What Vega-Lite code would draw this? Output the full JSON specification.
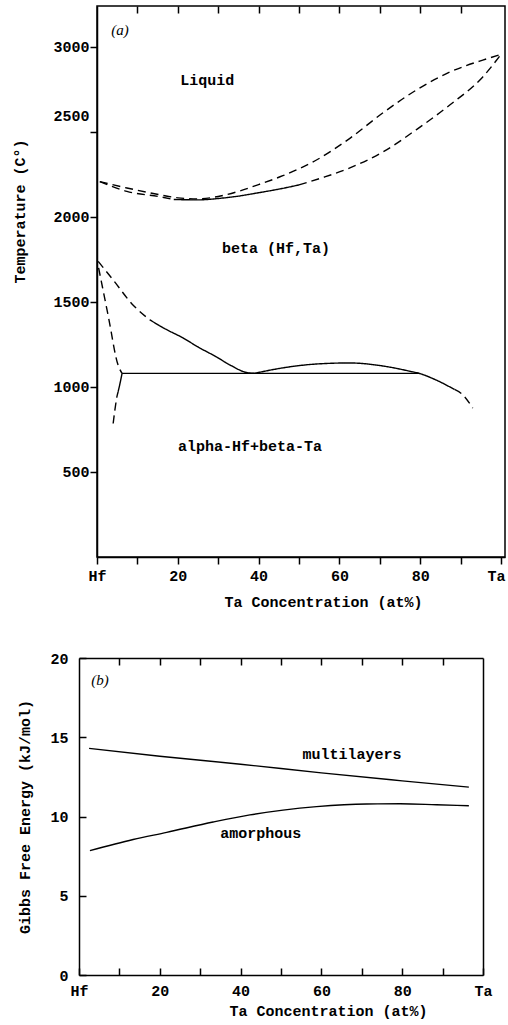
{
  "$schema": "https://vega.github.io/schema/vega-lite/v6.json",
  "background": "white",
  "padding": {"left": 12, "top": 4, "right": 0, "bottom": 2},
  "config": {
    "view": {"stroke": "black", "strokeWidth": 1.5},
    "font": "Liberation Mono",
    "axis": {
      "grid": false,
      "labelFont": "Liberation Mono", "labelFontWeight": "bold", "labelFontSize": 15, "labelColor": "black",
      "titleFont": "Liberation Mono", "titleFontWeight": "bold", "titleFontSize": 15, "titleColor": "black",
      "domainColor": "black", "domainWidth": 1.5, "tickColor": "black", "tickWidth": 1.5,
      "labelFlush": false, "labelOverlap": false
    }
  },
  "spacing": 41,
  "vconcat": [
    {
      "width": 408,
      "height": 551,
      "resolve": {"axis": {"x": "independent"}},
      "layer": [
        {
          "data": {"values": [
            {"seg": "liq", "dash": "dashed", "x": 0.7, "t": 2207},
            {"seg": "liq", "dash": "dashed", "x": 7.4, "t": 2170},
            {"seg": "liq", "dash": "dashed", "x": 15.6, "t": 2130},
            {"seg": "liq", "dash": "dashed", "x": 20, "t": 2112},
            {"seg": "liq", "dash": "dashed", "x": 25, "t": 2106},
            {"seg": "liq", "dash": "dashed", "x": 30, "t": 2120},
            {"seg": "liq", "dash": "dashed", "x": 35, "t": 2150},
            {"seg": "liq", "dash": "dashed", "x": 40, "t": 2190},
            {"seg": "liq", "dash": "dashed", "x": 46, "t": 2242},
            {"seg": "liq", "dash": "dashed", "x": 54, "t": 2330},
            {"seg": "liq", "dash": "dashed", "x": 62.6, "t": 2462},
            {"seg": "liq", "dash": "dashed", "x": 70.8, "t": 2612},
            {"seg": "liq", "dash": "dashed", "x": 79, "t": 2745},
            {"seg": "liq", "dash": "dashed", "x": 87.4, "t": 2852},
            {"seg": "liq", "dash": "dashed", "x": 95.5, "t": 2922},
            {"seg": "liq", "dash": "dashed", "x": 100, "t": 2955},
            {"seg": "sol1", "dash": "dashed", "x": 0.7, "t": 2207},
            {"seg": "sol1", "dash": "dashed", "x": 7.4, "t": 2150},
            {"seg": "sol1", "dash": "dashed", "x": 15.6, "t": 2118},
            {"seg": "sol1", "dash": "dashed", "x": 19, "t": 2102},
            {"seg": "sol2", "dash": "solid", "x": 19, "t": 2102},
            {"seg": "sol2", "dash": "solid", "x": 25, "t": 2100},
            {"seg": "sol2", "dash": "solid", "x": 30, "t": 2108},
            {"seg": "sol2", "dash": "solid", "x": 35, "t": 2122},
            {"seg": "sol2", "dash": "solid", "x": 40, "t": 2142},
            {"seg": "sol2", "dash": "solid", "x": 45, "t": 2163},
            {"seg": "sol2", "dash": "solid", "x": 50, "t": 2188},
            {"seg": "sol3", "dash": "dashed", "x": 50, "t": 2188},
            {"seg": "sol3", "dash": "dashed", "x": 56, "t": 2232},
            {"seg": "sol3", "dash": "dashed", "x": 62.6, "t": 2288},
            {"seg": "sol3", "dash": "dashed", "x": 70.8, "t": 2382},
            {"seg": "sol3", "dash": "dashed", "x": 79, "t": 2512},
            {"seg": "sol3", "dash": "dashed", "x": 87.4, "t": 2659},
            {"seg": "sol3", "dash": "dashed", "x": 95.5, "t": 2823},
            {"seg": "sol3", "dash": "dashed", "x": 100, "t": 2955},
            {"seg": "bt1", "dash": "dashed", "x": 0.3, "t": 1738},
            {"seg": "bt1", "dash": "dashed", "x": 4, "t": 1629},
            {"seg": "bt1", "dash": "dashed", "x": 8.9, "t": 1482},
            {"seg": "bt1", "dash": "dashed", "x": 13.1, "t": 1394},
            {"seg": "bt2", "dash": "solid", "x": 13.1, "t": 1394},
            {"seg": "bt2", "dash": "solid", "x": 17, "t": 1340},
            {"seg": "bt2", "dash": "solid", "x": 21.3, "t": 1288},
            {"seg": "bt2", "dash": "solid", "x": 25, "t": 1235},
            {"seg": "bt2", "dash": "solid", "x": 29.6, "t": 1176},
            {"seg": "bt2", "dash": "solid", "x": 33, "t": 1128},
            {"seg": "bt2", "dash": "solid", "x": 37, "t": 1085},
            {"seg": "bt2", "dash": "solid", "x": 39, "t": 1080},
            {"seg": "dome1", "dash": "solid", "x": 39, "t": 1080},
            {"seg": "dome1", "dash": "solid", "x": 46, "t": 1112},
            {"seg": "dome1", "dash": "solid", "x": 54.4, "t": 1135},
            {"seg": "dome1", "dash": "solid", "x": 62.6, "t": 1141},
            {"seg": "dome1", "dash": "solid", "x": 70.8, "t": 1123},
            {"seg": "dome1", "dash": "solid", "x": 77.5, "t": 1092},
            {"seg": "dome1", "dash": "solid", "x": 80, "t": 1078},
            {"seg": "dome1", "dash": "solid", "x": 84, "t": 1040},
            {"seg": "dome1", "dash": "solid", "x": 88.5, "t": 985},
            {"seg": "dome2", "dash": "dashed", "x": 88.5, "t": 985},
            {"seg": "dome2", "dash": "dashed", "x": 90.5, "t": 955},
            {"seg": "dome2", "dash": "dashed", "x": 93, "t": 876},
            {"seg": "at1", "dash": "dashed", "x": 0.4, "t": 1700},
            {"seg": "at1", "dash": "dashed", "x": 2.8, "t": 1415},
            {"seg": "at1", "dash": "dashed", "x": 5.2, "t": 1130},
            {"seg": "at1", "dash": "dashed", "x": 6.2, "t": 1080},
            {"seg": "at2", "dash": "solid", "x": 6.2, "t": 1080},
            {"seg": "at2", "dash": "solid", "x": 5.6, "t": 1010},
            {"seg": "at2", "dash": "solid", "x": 4.9, "t": 941},
            {"seg": "at3", "dash": "dashed", "x": 4.9, "t": 941},
            {"seg": "at3", "dash": "dashed", "x": 4.4, "t": 860},
            {"seg": "at3", "dash": "dashed", "x": 4, "t": 785},
            {"seg": "eut", "dash": "solid", "x": 6.2, "t": 1080},
            {"seg": "eut", "dash": "solid", "x": 80, "t": 1080}
          ]},
          "mark": {"type": "line", "color": "black", "strokeWidth": 1.4, "interpolate": "monotone"},
          "encoding": {
            "x": {
              "field": "x", "type": "quantitative",
              "scale": {"domain": [0, 101], "nice": false, "zero": false},
              "axis": {
                "orient": "bottom",
                "values": [0, 10, 20, 30, 40, 50, 60, 70, 80, 90, 100],
                "labelExpr": "datum.value == 0 ? 'Hf' : datum.value == 100 ? 'Ta' : (datum.value % 20 == 0 ? datum.label : '')",
                "labelOffset": {"condition": {"test": "datum.value == 100", "value": -5}, "value": 0},
                "tickSize": 7, "labelPadding": 4,
                "title": "Ta Concentration (at%)", "titlePadding": 11, "titleX": 226
              }
            },
            "y": {
              "field": "t", "type": "quantitative",
              "scale": {"domain": [0, 3240], "nice": false},
              "axis": {
                "values": [500, 1000, 1500, 2000, 2500, 3000],
                "format": "d",
                "tickSize": 7, "labelPadding": 1,
                "labelOffset": {"condition": {"test": "datum.value == 2500", "value": -16}, "value": 0},
                "title": "Temperature (C°)", "titlePadding": 25, "titleY": 205
              }
            },
            "detail": {"field": "seg"},
            "strokeDash": {"field": "dash", "type": "nominal", "scale": {"domain": ["solid", "dashed"], "range": [[1, 0], [8, 5]]}, "legend": null}
          }
        },
        {
          "data": {"values": [
            {"x": 27.3, "t": 2806, "label": "Liquid"},
            {"x": 44.3, "t": 1817, "label": "beta (Hf,Ta)"},
            {"x": 37.9, "t": 653, "label": "alpha-Hf+beta-Ta"}
          ]},
          "mark": {"type": "text", "font": "Liberation Mono", "fontWeight": "bold", "fontSize": 15, "color": "black"},
          "encoding": {
            "x": {
              "field": "x", "type": "quantitative",
              "axis": {"orient": "top", "values": [10, 20, 30, 40, 50, 60, 70, 80, 90], "labels": false, "tickSize": -7, "domain": false, "title": null}
            },
            "y": {"field": "t", "type": "quantitative"},
            "text": {"field": "label"}
          }
        },
        {
          "data": {"values": [{"x": 5.7, "t": 3100, "label": "(a)"}]},
          "mark": {"type": "text", "font": "Liberation Serif", "fontStyle": "italic", "fontSize": 15, "color": "black"},
          "encoding": {
            "x": {"field": "x", "type": "quantitative", "axis": null},
            "y": {"field": "t", "type": "quantitative"},
            "text": {"field": "label"}
          }
        }
      ]
    },
    {
      "width": 386,
      "height": 317,
      "view": {"stroke": null},
      "resolve": {"axis": {"x": "independent", "y": "independent"}},
      "layer": [
        {
          "data": {"values": [
            {"curve": "multilayers", "x": 2.5, "g": 14.3},
            {"curve": "multilayers", "x": 20, "g": 13.8},
            {"curve": "multilayers", "x": 40, "g": 13.3},
            {"curve": "multilayers", "x": 60, "g": 12.75},
            {"curve": "multilayers", "x": 80, "g": 12.25},
            {"curve": "multilayers", "x": 96.5, "g": 11.85},
            {"curve": "amorphous", "x": 2.7, "g": 7.85},
            {"curve": "amorphous", "x": 13.4, "g": 8.55},
            {"curve": "amorphous", "x": 21.7, "g": 9.0},
            {"curve": "amorphous", "x": 33.2, "g": 9.65},
            {"curve": "amorphous", "x": 42.3, "g": 10.1},
            {"curve": "amorphous", "x": 50.5, "g": 10.4},
            {"curve": "amorphous", "x": 58.8, "g": 10.62},
            {"curve": "amorphous", "x": 71.2, "g": 10.79},
            {"curve": "amorphous", "x": 79.5, "g": 10.8},
            {"curve": "amorphous", "x": 88.5, "g": 10.74},
            {"curve": "amorphous", "x": 96.5, "g": 10.68}
          ]},
          "mark": {"type": "line", "color": "black", "strokeWidth": 1.4, "interpolate": "monotone"},
          "encoding": {
            "x": {
              "field": "x", "type": "quantitative",
              "scale": {"domain": [0, 100], "range": [-18, 386], "nice": false, "zero": false},
              "axis": {
                "orient": "bottom",
                "values": [0, 10, 20, 30, 40, 50, 60, 70, 80, 90, 100],
                "labelExpr": "datum.value == 0 ? 'Hf' : datum.value == 100 ? 'Ta' : (datum.value % 20 == 0 ? datum.label : '')",
                "tickSize": -7, "labelPadding": 15,
                "title": "Ta Concentration (at%)", "titlePadding": 5, "titleX": 231
              }
            },
            "y": {
              "field": "g", "type": "quantitative",
              "scale": {"domain": [0, 20], "nice": false},
              "axis": {
                "orient": "left", "offset": 18,
                "values": [0, 5, 10, 15, 20],
                "tickSize": -7, "labelPadding": 18,
                "title": "Gibbs Free Energy (kJ/mol)", "titlePadding": 17
              }
            },
            "detail": {"field": "curve"}
          }
        },
        {
          "data": {"values": [
            {"x": 67.6, "g": 13.97, "label": "multilayers"},
            {"x": 45, "g": 8.98, "label": "amorphous"}
          ]},
          "mark": {"type": "text", "font": "Liberation Mono", "fontWeight": "bold", "fontSize": 15, "color": "black"},
          "encoding": {
            "x": {
              "field": "x", "type": "quantitative",
              "axis": {"orient": "top", "values": [10, 20, 30, 40, 50, 60, 70, 80, 90], "labels": false, "tickSize": -7, "domain": true, "title": null}
            },
            "y": {
              "field": "g", "type": "quantitative",
              "axis": {"orient": "right", "labels": false, "ticks": false, "domain": true, "title": null}
            },
            "text": {"field": "label"}
          }
        },
        {
          "data": {"values": [{"x": 5.2, "g": 18.6, "label": "(b)"}]},
          "mark": {"type": "text", "font": "Liberation Serif", "fontStyle": "italic", "fontSize": 15, "color": "black"},
          "encoding": {
            "x": {"field": "x", "type": "quantitative", "axis": null},
            "y": {"field": "g", "type": "quantitative", "axis": null},
            "text": {"field": "label"}
          }
        }
      ]
    }
  ]
}
